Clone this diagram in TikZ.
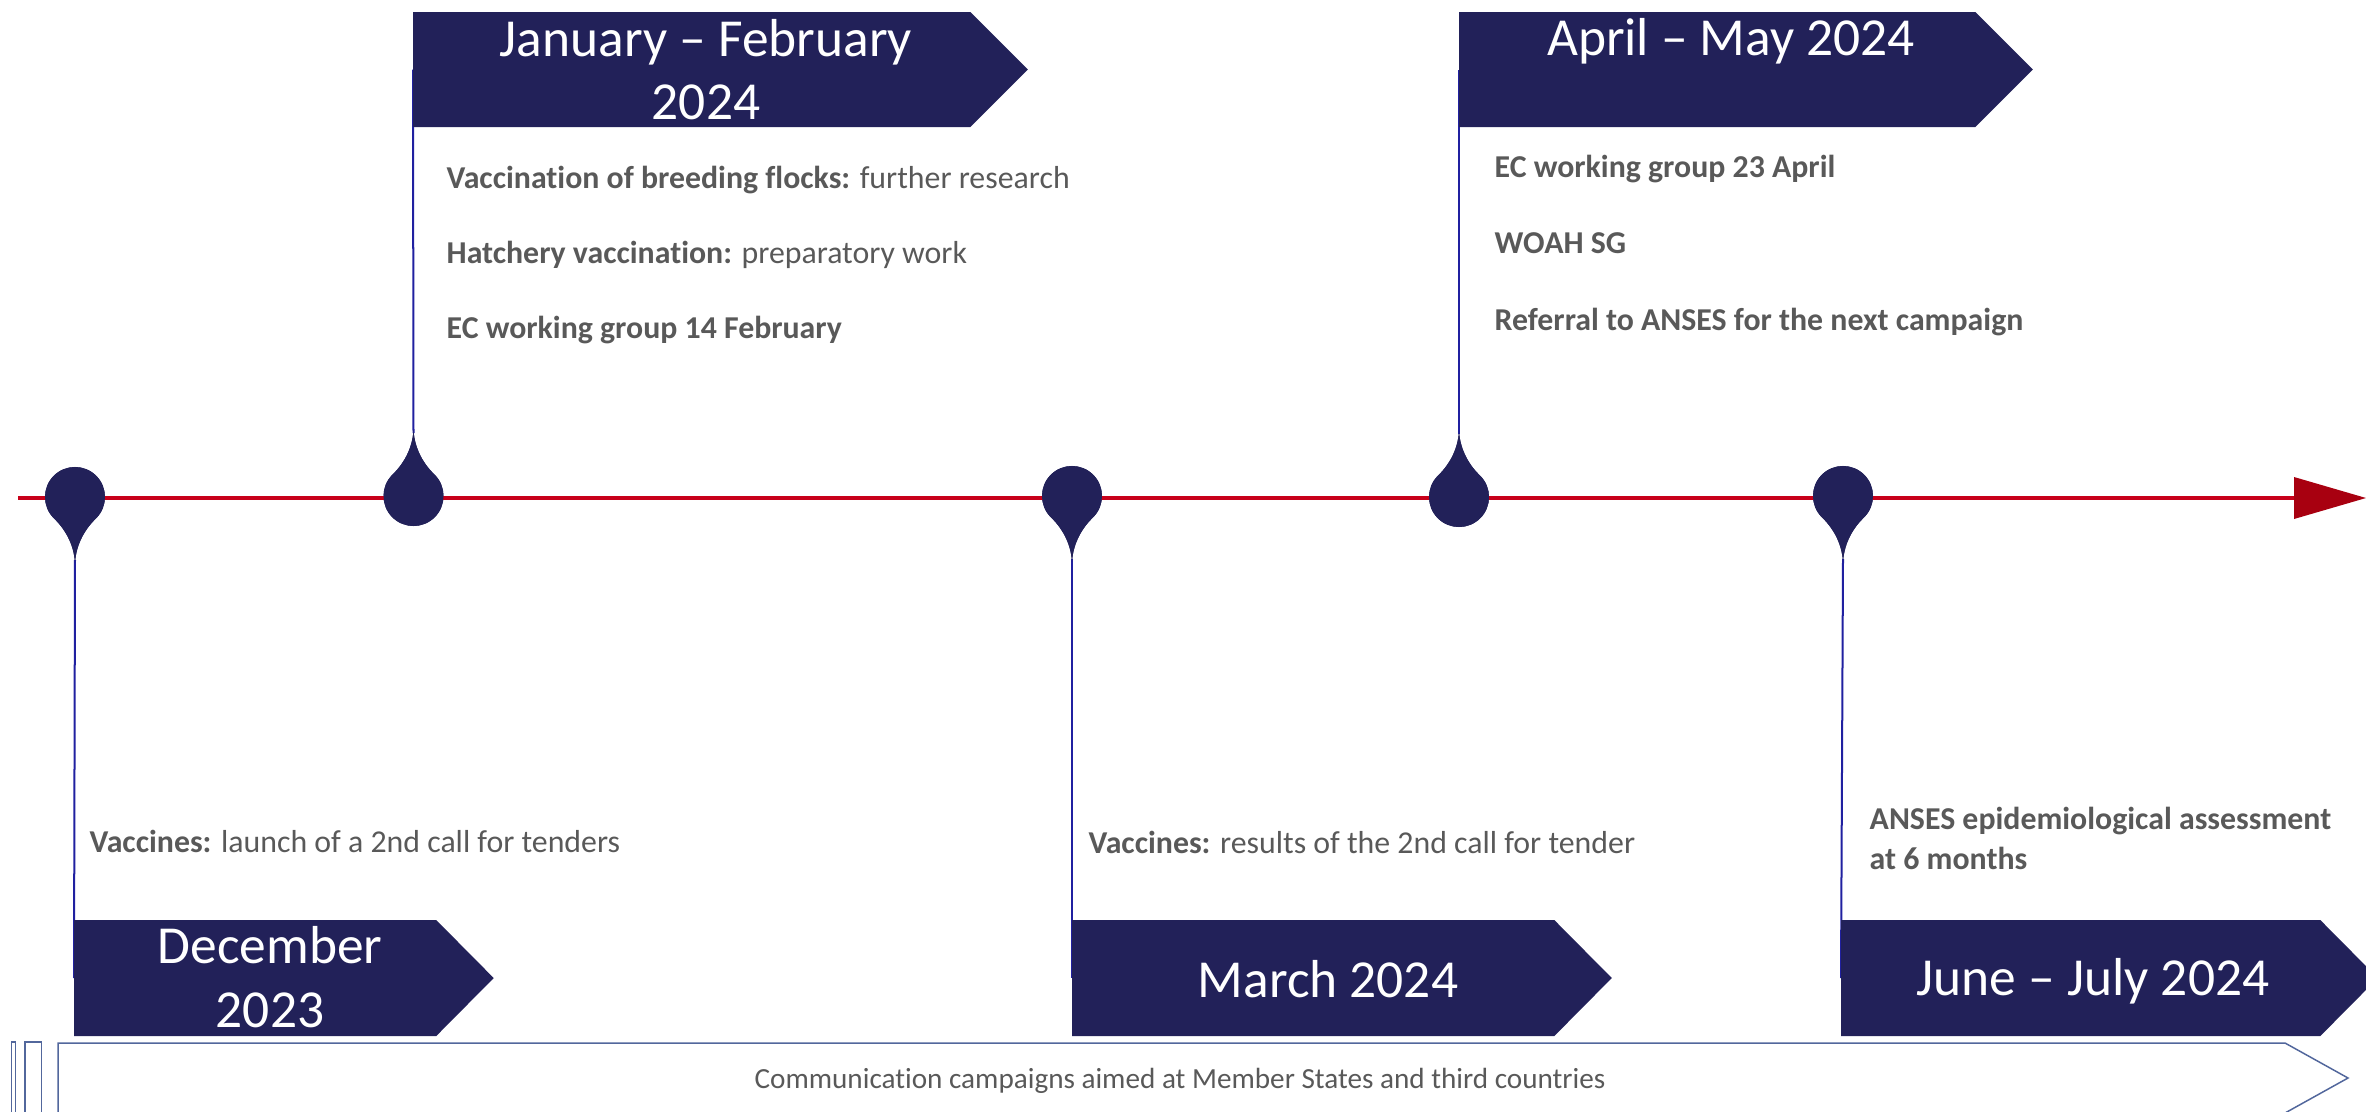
\documentclass[tikz,border=0pt]{standalone}
\usepackage{fontspec}
\setmainfont{Carlito}[Ligatures=NoCommon]
\usetikzlibrary{calc}
\definecolor{navy}{HTML}{222159}
\definecolor{axisred}{HTML}{C8001A}
\definecolor{tipred}{HTML}{A80010}
\definecolor{stemblue}{HTML}{2020A0}
\definecolor{bodygray}{HTML}{595959}
\definecolor{bandline}{HTML}{52679C}
\newcommand{\tlTitleFont}{\fontsize{15.2}{18}\selectfont}
\newcommand{\tlBodyFont}{\fontsize{9.05}{11}\selectfont}
\newcommand{\tlBandFont}{\fontsize{8.3}{10}\selectfont}
\begin{document}
\begin{tikzpicture}[x=0.01cm, y=0.01cm,
  title/.style={text=white, font=\tlTitleFont, inner sep=0pt, anchor=base},
  item/.style={text=bodygray, font=\tlBodyFont, inner sep=0pt, anchor=base west},
  bandtext/.style={text=bodygray, font=\tlBandFont, inner sep=0pt, anchor=base},
  boxbody/.style={inner sep=0pt, outer sep=0pt, anchor=north west},
  stem/.style={draw=stemblue, line width=0.02cm},
  pin/.pic={
    \fill[navy] (21.2,21.2) .. controls (11,31) and (1.2,46) .. (0,66)
      .. controls (-1.2,46) and (-11,31) .. (-21.2,21.2)
      arc[start angle=135, end angle=405, radius=30] -- cycle;
    \coordinate (-tip) at (0,63);
  },
]
\clip (0,0) rectangle (2366,-1112);

% date banners: named bodies, filled as arrow-shaped pentagons
\node[boxbody, minimum width=5.57cm, minimum height=1.15cm] (janbox) at (413,-12) {};
\node[boxbody, minimum width=5.16cm, minimum height=1.15cm] (aprbox) at (1459,-12) {};
\node[boxbody, minimum width=3.62cm, minimum height=1.16cm] (decbox) at (74,-920) {};
\node[boxbody, minimum width=4.82cm, minimum height=1.16cm] (marbox) at (1072,-920) {};
\node[boxbody, minimum width=4.79cm, minimum height=1.16cm] (junbox) at (1841,-920) {};

% pins on the time axis
\pic[rotate=180] (p1) at (75,-497) {pin};
\pic (p2) at (413.5,-496) {pin};
\pic[rotate=180] (p3) at (1072,-496) {pin};
\pic (p4) at (1459,-497) {pin};
\pic[rotate=180] (p5) at (1843,-496) {pin};

% stems from pins to banners
\draw[stem] (p1-tip) -- (decbox.west);
\draw[stem] (p2-tip) -- (janbox.west);
\draw[stem] (p3-tip) -- (marbox.west);
\draw[stem] (p4-tip) -- (aprbox.west);
\draw[stem] (p5-tip) -- (junbox.west);

\foreach \b in {janbox,aprbox,decbox,marbox,junbox}{
  \fill[navy] (\b.north west) -- (\b.north east) -- ($(\b.east)+(57.5,0)$)
    -- (\b.south east) -- (\b.south west) -- cycle;
}

% time axis
\coordinate (axisstart) at (18,-498);
\coordinate (axisend) at (2294,-498);
\draw[axisred, line width=0.045cm] (axisstart) -- (axisend);
\fill[tipred] ($(axisend)+(0,21)$) -- (2366,-498) -- ($(axisend)+(0,-21)$) -- cycle;

% pins redrawn above the axis
\pic[rotate=180] at (75,-497) {pin};
\pic at (413.5,-496) {pin};
\pic[rotate=180] at (1072,-496) {pin};
\pic at (1459,-497) {pin};
\pic[rotate=180] at (1843,-496) {pin};

% banner titles
\node[title] (jant1) at (706,-56) {January -- February};
\node[title] (jant2) at (706,-119) {2024};
\node[title] (aprt) at (1731,-55) {April -- May 2024};
\node[title] (dect1) at (270,-963) {December};
\node[title] (dect2) at (270,-1027) {2023};
\node[title] (mart) at (1328,-997) {March 2024};
\node[title] (junt) at (2093,-995) {June -- July 2024};

% events
\node[item] (ja1) at (446,-188) {\bfseries Vaccination of breeding flocks:\mdseries{} further research};
\node[item] (ja2) at (446,-263) {\bfseries Hatchery vaccination:\mdseries{} preparatory work};
\node[item] (ja3) at (446,-338) {\bfseries EC working group 14 February};
\node[item] (ap1) at (1494,-177) {\bfseries EC working group 23 April};
\node[item] (ap2) at (1494,-253) {\bfseries WOAH SG};
\node[item] (ap3) at (1494,-330) {\bfseries Referral to ANSES for the next campaign};
\node[item] (de1) at (89,-852) {\bfseries Vaccines:\mdseries{} launch of a 2nd call for tenders};
\node[item] (ma1) at (1088,-853) {\bfseries Vaccines:\mdseries{} results of the 2nd call for tender};
\node[item] (ju1) at (1869,-829) {\bfseries ANSES epidemiological assessment};
\node[item] (ju2) at (1869,-869) {\bfseries at 6 months};

% striped band along the bottom
\draw[bandline, line width=0.015cm] (11.7,-1116) |- (15.3,-1042) -- (15.3,-1116);
\draw[bandline, line width=0.015cm] (25,-1116) |- (41.7,-1042) -- (41.7,-1116);
\draw[bandline, line width=0.015cm] (58,-1043) -- (2285,-1043) -- (2348,-1078)
  -- (2285,-1113) -- (58,-1113) -- cycle;
\node[bandtext] (band) at (1180,-1088) {Communication campaigns aimed at Member States and third countries};
\end{tikzpicture}
\end{document}
